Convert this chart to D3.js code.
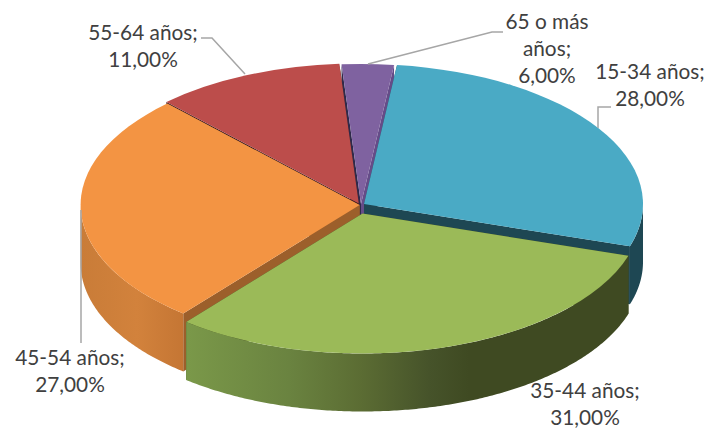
<!DOCTYPE html>
<html>
<head>
<meta charset="utf-8">
<script src="https://d3js.org/d3.v7.min.js"></script>
<style>
  html, body { margin: 0; padding: 0; background: #fff; }
  svg { display: block; }
  text { font-family: Lato, "Open Sans", sans-serif; font-size: 20.8px; fill: #404040; }
</style>
</head>
<body>
<svg id="chart" width="706" height="428"></svg>
<script>
// data
var groups = ["15-34 años", "35-44 años", "45-54 años", "55-64 años", "65 o más años"];
// drawn share of each slice. the last one is drawn about half of what its label says
var sliceValues = [28, 31, 27, 11, 3];
var labelValues = ["28,00%", "31,00%", "27,00%", "11,00%", "6,00%"];

// top face, cut wall at the start and at the end of the slice
var topColors = ["#4AAAC5", "#9BBA58", "#F39443", "#BC4D4B", "#7F62A0"];
var startWalls = ["#1E4753", "#3F4A22", "#9C5F2B", "#3A1C22", "#2F2A4A"];
var endWalls = ["#1E4753", "#3F4A22", "#9C5F2B", "#3A1C22", "#654C88"];

// set the dimensions of the pie
var rx = 279, ry = 140, depth = 58;
var startDeg = 6.8;
// where every pulled out slice has its tip
var tips = [[364, 204], [362.5, 213.5], [359.6, 205], [358.8, 203.4], [361, 204]];
// painter order, back to front
var drawOrder = [4, 3, 0, 2, 1];

var svg = d3.select("#chart");
var defs = svg.append("defs");

var start = startDeg * Math.PI / 180;
var slices = d3.pie().sort(null).value(function(d) { return d; })
  .startAngle(start).endAngle(start + 2 * Math.PI)(sliceValues);

// side shading runs left to right
var sideStops = [
  [[0, "#1E4753"], [1, "#1E4753"]],
  [[0.19, "#7A9849"], [0.37, "#6A8340"], [0.5, "#5B6C33"], [0.62, "#46532A"], [0.69, "#3F4A22"], [1, "#3F4A22"]],
  [[0, "#C97C38"], [0.1, "#D2823C"], [0.18, "#C57634"]],
  [[0, "#7A3230"], [1, "#7A3230"]],
  [[0, "#5E4780"], [1, "#5E4780"]]
];
sideStops.forEach(function(stops, i) {
  var g = defs.append("linearGradient").attr("id", "side" + i)
    .attr("gradientUnits", "userSpaceOnUse")
    .attr("x1", 81).attr("x2", 643).attr("y1", 0).attr("y2", 0);
  stops.forEach(function(s) {
    g.append("stop").attr("offset", s[0]).attr("stop-color", s[1]);
  });
});

var topArc = d3.arc().innerRadius(0).outerRadius(rx);
var line = d3.line();

function rim(a, i, dy) {
  return [tips[i][0] + rx * Math.sin(a), tips[i][1] - ry * Math.cos(a) + dy];
}

var pie = svg.append("g");

drawOrder.forEach(function(i) {
  var s = slices[i];
  var g = pie.append("g");
  var tip = tips[i];

  // cut walls
  [[s.startAngle, startWalls[i]], [s.endAngle, endWalls[i]]].forEach(function(w) {
    var a = w[0];
    g.append("path")
      .attr("d", line([tip, rim(a, i, 0), rim(a, i, depth), [tip[0], tip[1] + depth]]) + "Z")
      .attr("fill", w[1]);
  });

  // outer wall, only the part that faces us
  var from = s.startAngle, to = s.endAngle;
  var a0 = Math.max(from, Math.PI / 2), a1 = Math.min(to, 3 * Math.PI / 2);
  if (a1 > a0) {
    var angles = d3.range(a0, a1, 0.01).concat([a1]);
    var upper = angles.map(function(a) { return rim(a, i, 0); });
    var lower = angles.map(function(a) { return rim(a, i, depth); }).reverse();
    g.append("path")
      .attr("d", line(upper.concat(lower)) + "Z")
      .attr("fill", "url(#side" + i + ")");
  }

  // top face
  g.append("path")
    .attr("transform", "translate(" + tip[0] + "," + tip[1] + ") scale(1," + (ry / rx) + ")")
    .attr("d", topArc(s))
    .attr("fill", topColors[i]);
});

// leader lines
var leaders = [
  [[598, 128], [598, 107], [611, 107]],
  [],
  [[81, 210], [81, 343]],
  [[245, 74], [212, 38], [201, 38]],
  [[368, 64], [492, 32], [503, 32]]
];
leaders.forEach(function(pts) {
  if (!pts.length) return;
  svg.append("path").attr("d", line(pts))
    .attr("fill", "none").attr("stroke", "#A6A6A6").attr("stroke-width", 1.5);
});

// labels
var labelSpots = [[650, 79], [585, 398], [70, 365], [143, 40], [547, 29]];
groups.forEach(function(name, i) {
  var rows = [name + ";", labelValues[i]];
  if (i === 4) rows = ["65 o más", "años;", labelValues[i]];
  var t = svg.append("text").attr("text-anchor", "middle");
  rows.forEach(function(r, k) {
    t.append("tspan").attr("x", labelSpots[i][0]).attr("y", labelSpots[i][1] + k * 27).text(r);
  });
});
</script>
</body>
</html>
